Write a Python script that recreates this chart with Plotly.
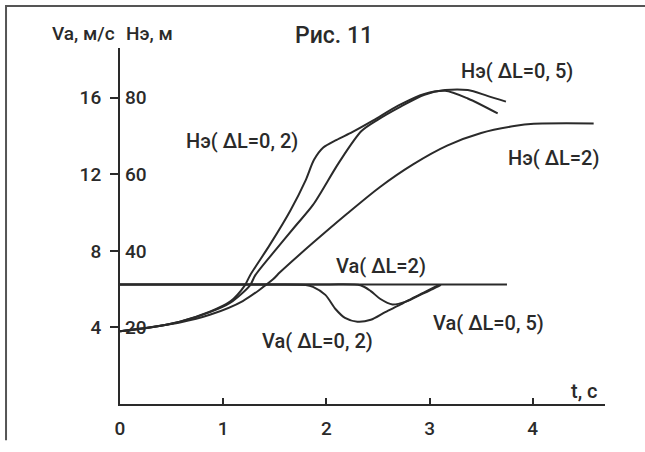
import plotly.graph_objects as go

# ---- data (t in s, Va in m/s, H in m) ----
t_va2 = [0.0, 3.75]
va_2 = [6.25, 6.25]

t_va02 = [0.0, 1.5, 1.80, 1.87, 1.99, 2.09, 2.18, 2.30, 2.43, 2.57, 2.72, 2.86, 2.99, 3.09]
va_02 = [6.25, 6.25, 6.22, 6.12, 5.70, 4.95, 4.50, 4.30, 4.40, 4.80, 5.20, 5.60, 5.95, 6.22]

t_va05 = [0.0, 2.0, 2.33, 2.43, 2.52, 2.64, 2.77, 2.91, 3.03, 3.11]
va_05 = [6.25, 6.25, 6.20, 5.90, 5.50, 5.20, 5.35, 5.70, 6.00, 6.22]

t_h02 = [0.0, 0.29, 0.58, 0.87, 1.07, 1.21, 1.26, 1.45, 1.65, 1.80, 1.88, 1.97, 2.10, 2.25, 2.45, 2.70, 2.95, 3.15, 3.37, 3.66]
h_02 = [19.0, 20.0, 21.5, 24.1, 26.8, 31.0, 33.6, 41.5, 50.5, 58.5, 63.8, 67.0, 69.0, 71.0, 74.0, 78.0, 81.0, 81.8, 79.8, 75.9]

t_h05 = [0.0, 0.29, 0.58, 0.87, 1.07, 1.26, 1.31, 1.50, 1.70, 1.87, 2.12, 2.34, 2.50, 2.72, 2.95, 3.15, 3.37, 3.56, 3.74]
h_05 = [19.0, 20.0, 21.5, 24.0, 26.5, 31.0, 33.6, 40.0, 46.5, 52.0, 63.0, 71.3, 74.3, 77.7, 80.8, 82.0, 82.0, 80.5, 79.0]

t_h2 = [0.0, 0.58, 0.87, 1.19, 1.48, 1.55, 1.87, 2.20, 2.52, 2.84, 3.17, 3.50, 3.82, 4.01, 4.59]
h_2 = [19.0, 21.3, 23.3, 26.9, 32.5, 34.4, 42.1, 49.7, 56.7, 62.6, 67.5, 70.8, 72.6, 73.2, 73.3]

x_ticks = [0, 1, 2, 3, 4]
va_ticks = [4, 8, 12, 16]
h_ticks = [20, 40, 60, 80]

INK = "#2a2a2a"
FONT = "Roboto, sans-serif"

fig = go.Figure()
line = dict(color=INK, width=2, shape="spline", smoothing=0.8)

fig.add_trace(go.Scatter(x=t_va2, y=va_2, mode="lines", line=dict(color=INK, width=2), yaxis="y"))
fig.add_trace(go.Scatter(x=t_va02, y=va_02, mode="lines", line=line, yaxis="y"))
fig.add_trace(go.Scatter(x=t_va05, y=va_05, mode="lines", line=line, yaxis="y"))
fig.add_trace(go.Scatter(x=t_h02, y=h_02, mode="lines", line=line, yaxis="y2"))
fig.add_trace(go.Scatter(x=t_h05, y=h_05, mode="lines", line=line, yaxis="y2"))
fig.add_trace(go.Scatter(x=t_h2, y=h_2, mode="lines", line=line, yaxis="y2"))

fig.update_layout(
    width=645, height=452,
    margin=dict(l=120, r=40, t=48, b=41),
    paper_bgcolor="white", plot_bgcolor="white",
    showlegend=False,
    font=dict(family=FONT, size=19, color=INK, weight=500),
    xaxis=dict(range=[0, 4.7], tickvals=x_ticks, ticks="inside", ticklen=6, tickwidth=2,
               tickcolor=INK, showline=True, linewidth=2, linecolor=INK, showgrid=False,
               zeroline=False, ticklabelstandoff=6),
    yaxis=dict(range=[0, 18.6], tickvals=va_ticks, ticks="outside", ticklen=8, tickwidth=2,
               tickcolor=INK, showline=True, linewidth=2, linecolor=INK, showgrid=False,
               zeroline=False, ticklabelstandoff=5),
    yaxis2=dict(range=[0, 93], tickvals=h_ticks, overlaying="y", side="right",
                anchor="free", position=0, ticks="", showline=False, showgrid=False,
                zeroline=False, ticklabelstandoff=4),
)

# axis captions and figure title (paper coordinates)
for text, x, y, s in [("Va, м/с", -0.076, 1.041, 19), ("Нэ, м", 0.060, 1.041, 19),
                      ("Рис. 11", 0.441, 1.036, 23)]:
    fig.add_annotation(text=text, x=x, y=y, xref="paper", yref="paper", showarrow=False,
                       xanchor="center", yanchor="middle",
                       font=dict(size=s, family=FONT, color=INK, weight=500))

# curve labels (data coordinates, t / Va)
for text, x, y in [
    ("Нэ( ΔL=0, 5)", 3.85, 17.38),
    ("Нэ( ΔL=0, 2)", 1.18, 13.74),
    ("Нэ( ΔL=2)", 4.20, 12.87),
    ("Va( ΔL=2)", 2.53, 7.23),
    ("Va( ΔL=0, 2)", 1.91, 3.30),
    ("Va( ΔL=0, 5)", 3.57, 4.25),
    ("t, c", 4.50, 0.70),
]:
    fig.add_annotation(text=text, x=x, y=y, xref="x", yref="y", showarrow=False,
                       xanchor="center", yanchor="middle",
                       font=dict(size=20, family=FONT, color=INK, weight=500))

# page frame (left and top border of the scanned page)
fig.add_shape(type="path", xref="paper", yref="paper",
              path="M -0.235 -0.102 L -0.235 1.118 L 1.09 1.118",
              line=dict(color="#555", width=2))

fig.write_html("out.html")
